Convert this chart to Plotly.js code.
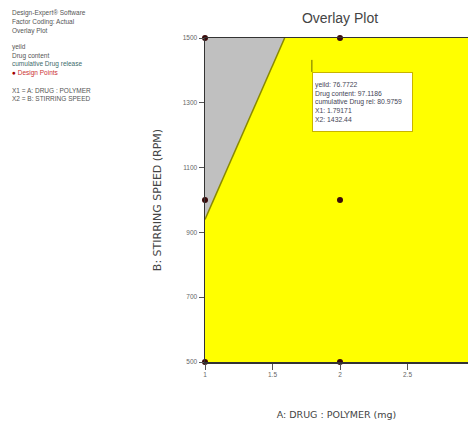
<!DOCTYPE html>
<html><head><meta charset="utf-8">
<script src="https://cdn.plot.ly/plotly-3.0.1.min.js"></script>
<style>html,body{margin:0;padding:0;background:#fff}</style>
</head><body><div id="chart" style="width:468px;height:432px"></div>
<script>
// Data
const feasibleX = [1, 3, 3, 1, 1];
const feasibleY = [500, 500, 1500, 1500, 500];
const infeasibleX = [1, 1.59, 1];
const infeasibleY = [940, 1500, 1500];
const boundaryX = [1, 1.59];
const boundaryY = [940, 1500];
const designX = [1, 2, 3, 1, 2, 3, 1, 2, 3];
const designY = [500, 500, 500, 1000, 1000, 1000, 1500, 1500, 1500];
const flagX = [1.79171];
const flagY = [1432.44];
const flagLabels = ["yeild: 76.7722", "Drug content: 97.1186", "cumulative Drug rel: 80.9759", "X1: 1.79171", "X2: 1432.44"];
const xTickVals = [1, 1.5, 2, 2.5, 3];
const yTickVals = [500, 700, 900, 1100, 1300, 1500];
const sideNotes = ["Design-Expert® Software", "Factor Coding: Actual", "Overlay Plot", "", "yeild", "Drug content", "cumulative Drug release"];
const axisNotes = ["X1 = A: DRUG : POLYMER", "X2 = B: STIRRING SPEED"];

const W = 468, H = 432, ML = 205, MT = 38, MB = 70, MR = 0;
const pw = W - ML - MR, ph = H - MT - MB;
const px = p => (p - ML) / pw;
const py = p => (H - MB - p) / ph;

const traces = [
  {x: feasibleX, y: feasibleY, type: 'scatter', mode: 'lines', fill: 'toself',
   fillcolor: '#ffff00', line: {width: 0}, hoverinfo: 'skip'},
  {x: infeasibleX, y: infeasibleY, type: 'scatter', mode: 'lines', fill: 'toself',
   fillcolor: '#c0c0c0', line: {width: 0}, hoverinfo: 'skip'},
  {x: boundaryX, y: boundaryY, type: 'scatter', mode: 'lines',
   line: {color: '#8a8a00', width: 1.5}},
  {x: designX, y: designY, type: 'scatter', mode: 'markers', cliponaxis: false,
   marker: {color: '#3a0a0a', size: 6}}
];

const ann = [];
const noteY = [13, 22, 31, 39, 47, 56, 64];
sideNotes.forEach((t, i) => {
  if (!t) return;
  ann.push({xref: 'paper', yref: 'paper', x: px(10), y: py(noteY[i]), xanchor: 'left', yanchor: 'middle',
    text: t, showarrow: false, font: {family: 'Liberation Sans', size: 6.5, color: i === 6 ? '#3d6b6b' : '#555'}});
});
ann.push({xref: 'paper', yref: 'paper', x: px(10), y: py(73), xanchor: 'left', yanchor: 'middle',
  text: '<span style="color:#a00000">●</span> Design Points', showarrow: false,
  font: {family: 'Liberation Sans', size: 6.5, color: '#cc3333'}});
axisNotes.forEach((t, i) => {
  ann.push({xref: 'paper', yref: 'paper', x: px(10), y: py(90 + i * 8.5), xanchor: 'left', yanchor: 'middle',
    text: t, showarrow: false, font: {family: 'Liberation Sans', size: 6.5, color: '#555'}});
});
ann.push({x: flagX[0], y: flagY[0], xref: 'x', yref: 'y', text: flagLabels.join('<br>'), align: 'left',
  showarrow: true, arrowhead: 0, arrowwidth: 1, arrowcolor: '#6a6a00', ax: 0, ay: 12, axref: 'pixel', ayref: 'pixel',
  xanchor: 'left', yanchor: 'top', bgcolor: '#ffffff', bordercolor: '#c8b400', borderwidth: 1, borderpad: 2,
  width: 95, height: 54, valign: 'middle', font: {family: 'Liberation Sans', size: 6.8, color: '#445'}});

const layout = {
  width: W, height: H, margin: {l: ML, r: MR, t: MT, b: MB},
  paper_bgcolor: '#ffffff', plot_bgcolor: '#ffff00', showlegend: false,
  title: {text: 'Overlay Plot', x: 340 / W, xanchor: 'center', y: 1 - 18 / H, yanchor: 'middle',
    font: {family: 'Liberation Sans', size: 14, color: '#444'}},
  xaxis: {range: [1, 1 + 263 / 135], tickvals: xTickVals, ticktext: xTickVals.map(String),
    showgrid: false, zeroline: false, ticks: 'outside', ticklen: 6, tickcolor: '#555',
    showline: true, linecolor: '#333', linewidth: 1.5, mirror: true,
    tickfont: {family: 'Liberation Sans', size: 6.5, color: '#666'},
    title: {text: 'A: DRUG : POLYMER (mg)', standoff: 34, font: {family: 'DejaVu Sans', size: 9.5, color: '#444'}}},
  yaxis: {range: [500, 1500], tickvals: yTickVals, ticktext: yTickVals.map(String),
    showgrid: false, zeroline: false, ticks: 'outside', ticklen: 5, tickcolor: '#555',
    showline: true, linecolor: '#333', linewidth: 1.5, mirror: true,
    tickfont: {family: 'Liberation Sans', size: 6.5, color: '#666'},
    title: {text: 'B: STIRRING SPEED (RPM)', standoff: 19, font: {family: 'DejaVu Sans', size: 11, color: '#444'}}},
  annotations: ann
};
Plotly.newPlot('chart', traces, layout, {displayModeBar: false, staticPlot: true});
</script></body></html>
